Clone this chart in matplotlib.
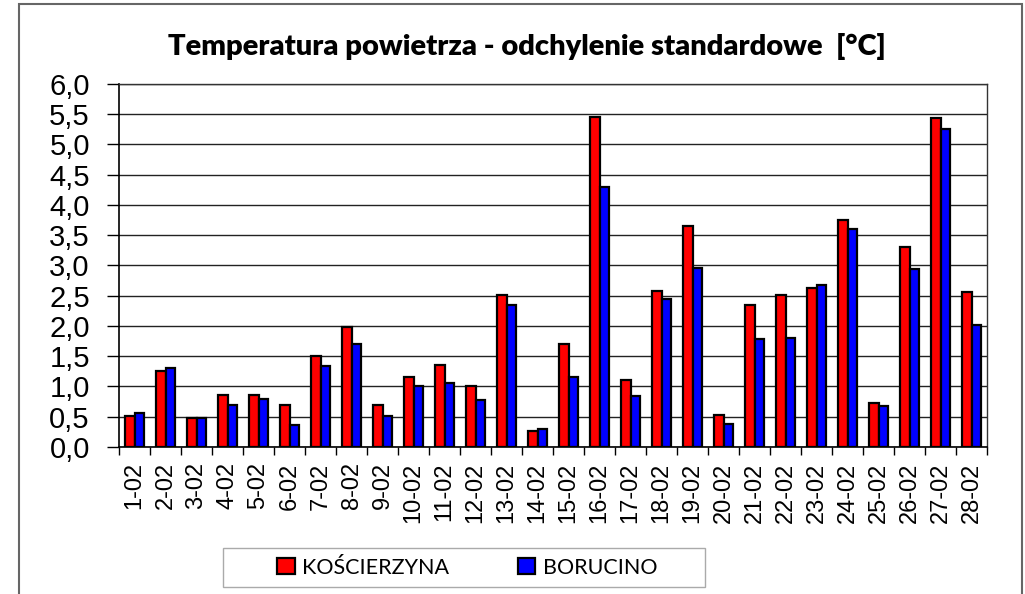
import matplotlib
matplotlib.use("Agg")
import matplotlib.pyplot as plt
import numpy as np
from matplotlib.patches import Rectangle, Patch
from matplotlib.ticker import MultipleLocator, FixedLocator, FuncFormatter

days = [f"{d}-02" for d in range(1, 29)]
koscierzyna = [0.52, 1.26, 0.48, 0.86, 0.86, 0.69, 1.50, 1.99, 0.69, 1.15,
               1.36, 1.01, 2.51, 0.26, 1.71, 5.45, 1.11, 2.58, 3.65, 0.53,
               2.34, 2.52, 2.62, 3.76, 0.72, 3.31, 5.44, 2.56]
borucino = [0.56, 1.30, 0.48, 0.69, 0.80, 0.36, 1.34, 1.70, 0.51, 1.00,
            1.06, 0.78, 2.35, 0.30, 1.16, 4.29, 0.84, 2.45, 2.96, 0.38,
            1.79, 1.80, 2.67, 3.60, 0.68, 2.95, 5.26, 2.02]

fig = plt.figure(figsize=(10.25, 5.94), dpi=100)
ax = fig.add_axes([0.1161, 0.2475, 0.8469, 0.6111])

x = np.arange(len(days))
w = 0.31
ax.bar(x - w / 2, koscierzyna, w, color="#ff0000", edgecolor="black", linewidth=1.6, zorder=3)
ax.bar(x + w / 2, borucino, w, color="#0000ff", edgecolor="black", linewidth=1.6, zorder=3)

ax.set_xlim(-0.5, len(days) - 0.5)
ax.set_ylim(0, 6)
ax.yaxis.set_major_locator(MultipleLocator(0.5))
ax.yaxis.set_major_formatter(FuncFormatter(lambda v, p: f"{v:.1f}".replace(".", ",")))
ax.grid(axis="y", color="#222222", linewidth=1.0, zorder=0)

ax.set_xticks(x)
ax.set_xticklabels(days, rotation=90, fontsize=17, family="Liberation Sans")
ax.tick_params(axis="x", which="major", length=0, pad=11)
ax.xaxis.set_minor_locator(FixedLocator(np.arange(-0.5, len(days), 1.0)))
ax.tick_params(axis="x", which="minor", length=6, width=1, direction="out")
ax.tick_params(axis="y", length=9, width=1, direction="out", pad=12)
for lab in ax.get_yticklabels():
    lab.set_fontsize(21)
    lab.set_family("Liberation Sans")

for side in ["left", "bottom"]:
    ax.spines[side].set_color("black")
    ax.spines[side].set_linewidth(1.2)
for side in ["top", "right"]:
    ax.spines[side].set_color("#333333")
    ax.spines[side].set_linewidth(1.0)

fig.text(0.514, 0.922, "Temperatura powietrza - odchylenie standardowe  [°C]",
         ha="center", va="center", fontsize=21, fontweight="heavy", family="Lato")

# outer chart frame
fig.patches.append(Rectangle((19 / 1025, -0.01), 1003 / 1025, 1.0 - 4 / 594 + 0.01,
                             transform=fig.transFigure, fill=False,
                             edgecolor="#666666", linewidth=1.5))

# legend box
fig.patches.append(Rectangle((223 / 1025, 7 / 594), 482 / 1025, 39 / 594,
                             transform=fig.transFigure, fill=False,
                             edgecolor="#aaaaaa", linewidth=1.0))
handles = [Patch(facecolor="#ff0000", edgecolor="black", linewidth=1.6),
           Patch(facecolor="#0000ff", edgecolor="black", linewidth=1.6)]
fig.legend(handles, ["KOŚCIERZYNA", "BORUCINO"], loc="center",
           bbox_to_anchor=(0.456, 0.0446), ncol=2, frameon=False,
           prop={"family": "Lato", "size": 15.5}, handlelength=0.8, handleheight=0.8,
           handletextpad=0.35, columnspacing=3.2)

fig.savefig("out.png", dpi=100)
